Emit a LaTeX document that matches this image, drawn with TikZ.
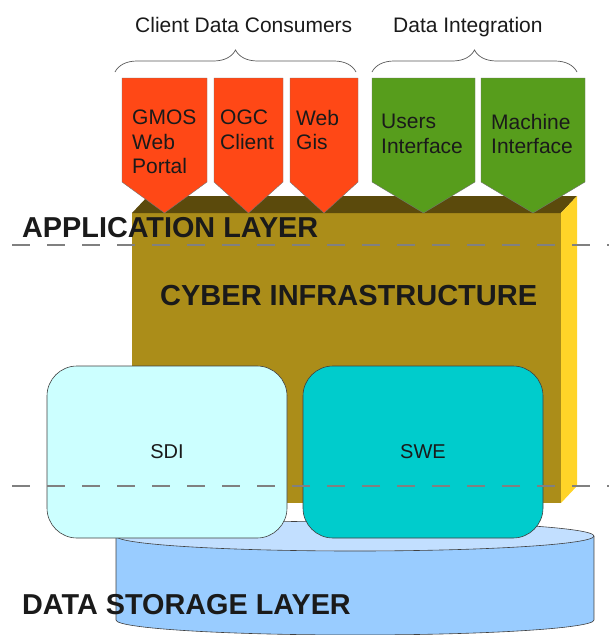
\documentclass[tikz,border=0pt]{standalone}
\usepackage{fontspec}
\setmainfont{Liberation Sans}
\usetikzlibrary{decorations.pathreplacing}
\definecolor{chevorange}{HTML}{FF4816}
\definecolor{chevgreen}{HTML}{579D1C}
\definecolor{boxfront}{HTML}{AB8D19}
\definecolor{boxtop}{HTML}{5B4A0C}
\definecolor{boxside}{HTML}{FFD428}
\definecolor{sdifill}{HTML}{CCFFFF}
\definecolor{swefill}{HTML}{00CCCC}
\definecolor{cylbodyc}{HTML}{99CCFF}
\definecolor{cyltopc}{HTML}{C2DFFF}
\definecolor{txt}{HTML}{1A1A1A}
\begin{document}
\begin{tikzpicture}[x=1pt,y=-1pt,
  chev/.style={draw=black!55,line width=0.4pt},
  chevtext/.style={anchor=north west,inner sep=0pt,align=left,text=txt,
    font=\fontsize{21}{24.5}\selectfont},
  headtext/.style={inner sep=0pt,text=txt,font=\fontsize{21}{25}\selectfont},
  layertext/.style={anchor=base west,inner sep=0pt,text=txt,
    font=\fontsize{28.8}{30}\selectfont\bfseries},
  bracestyle/.style={draw=black!65,line width=0.7pt,
    decorate,decoration={brace,amplitude=22pt}},
  layerline/.style={draw=black!50,line width=1.6pt,dash pattern=on 18pt off 17pt},
  roundbox/.style={draw=black!75,line width=0.6pt,rounded corners=30pt},
  cylline/.style={draw=black!75,line width=0.6pt}]
\useasboundingbox (0,0) rectangle (609,635);

% data storage cylinder
\fill[cylbodyc] (116,536) rectangle (594,620);
\fill[cylbodyc] (355,620) ellipse[x radius=239,y radius=15];
\draw[cylline] (116,536) -- (116,620) arc[start angle=180,end angle=0,x radius=239,y radius=15] -- (594,536);
\filldraw[cylline,fill=cyltopc] (355,536) ellipse[x radius=239,y radius=15];

% cyber infrastructure box
\fill[boxfront] (132,213) rectangle (561,503);
\fill[boxtop] (132,213) -- (148,196) -- (577,196) -- (561,213) -- cycle;
\fill[boxside] (561,213) -- (577,196) -- (577,486) -- (561,503) -- cycle;
\node[anchor=base west,inner sep=0pt,text=txt,font=\fontsize{29}{30}\selectfont\bfseries] (cyber) at (160,305) {CYBER INFRASTRUCTURE};

% SDI and SWE
\draw[roundbox,fill=sdifill] (47,366) rectangle (287,538);
\draw[roundbox,fill=swefill] (303,366) rectangle (543,538);
\node[headtext,font=\fontsize{20}{24}\selectfont] (sdi) at (167,452) {SDI};
\node[headtext,font=\fontsize{20}{24}\selectfont] (swe) at (423,452) {SWE};

% chevrons
\draw[chev,fill=chevorange] (122,78) -- (207,78) -- (207,182) -- (164.5,213) -- (122,182) -- cycle;
\draw[chev,fill=chevorange] (214,78) -- (283,78) -- (283,182) -- (248.5,213) -- (214,182) -- cycle;
\draw[chev,fill=chevorange] (290,78) -- (358,78) -- (358,182) -- (324,213) -- (290,182) -- cycle;
\draw[chev,fill=chevgreen] (372,78) -- (475,78) -- (475,182) -- (423.5,213) -- (372,182) -- cycle;
\draw[chev,fill=chevgreen] (481,78) -- (585,78) -- (585,182) -- (533,213) -- (481,182) -- cycle;
\node[chevtext] (gmos) at (132,110) {GMOS\\Web\\Portal};
\node[chevtext] (ogc) at (220,110) {OGC\\Client};
\node[chevtext] (webgis) at (296,110) {Web\\Gis};
\node[chevtext] (users) at (381,114) {Users\\Interface};
\node[chevtext] (machine) at (491,114) {Machine\\Interface};

% group headings and braces
\node[headtext,anchor=base west] (consumers) at (135,32) {Client Data Consumers};
\node[headtext,anchor=base west] (integration) at (393,32) {Data Integration};
\draw[bracestyle] (115,72) -- (356,72);
\draw[bracestyle] (372,72) -- (577,72);

% layer labels and separators
\node[layertext] (applayer) at (22,237) {APPLICATION LAYER};
\node[layertext] (datalayer) at (22,614) {DATA STORAGE LAYER};
\draw[layerline] (12,245) -- (609,245);
\draw[layerline] (12,486) -- (609,486);
\end{tikzpicture}
\end{document}
